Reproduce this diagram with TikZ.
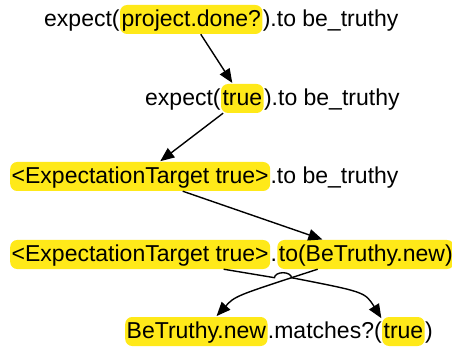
\documentclass[tikz,border=0pt]{standalone}
\usepackage{fontspec}
\setmainfont{Liberation Sans}
\usetikzlibrary{arrows.meta}
\definecolor{hlyellow}{RGB}{255,233,25}
\tikzset{
  txt/.style={inner sep=0pt, text height=20pt, text depth=6pt, anchor=base west},
  hl/.style={txt, fill=hlyellow, rounded corners=7pt, inner xsep=1.5pt, inner ysep=1.5pt},
  edge/.style={line width=1.4pt, -{Triangle[length=14pt,width=11.5pt]}, shorten >=1pt}
}
\begin{document}
\begin{tikzpicture}[x=1pt, y=-1pt, font=\fontsize{23}{28}\selectfont]
 \useasboundingbox (0,0) rectangle (452,347);

 % line 1
 \node[txt] (l1a) at (44,26.5) {expect(};
 \node[hl] (l1b) at (l1a.base east) {project.done?};
 \node[txt] (l1c) at (l1b.base east) {).to be\_truthy};

 % line 2
 \node[txt] (l2a) at (145,105.5) {expect(};
 \node[hl] (l2b) at (l2a.base east) {true};
 \node[txt] (l2c) at (l2b.base east) {).to be\_truthy};

 % line 3
 \node[hl] (l3a) at (10,183.5) {<ExpectationTarget true>};
 \node[txt] (l3b) at (l3a.base east) {.to be\_truthy};

 % line 4
 \node[hl] (l4a) at (10,261.5) {<ExpectationTarget true>};
 \node[txt] (l4dot) at (l4a.base east) {.};
 \node[hl] (l4b) at (l4dot.base east) {to(BeTruthy.new)};

 % line 5
 \node[hl] (l5a) at (125,338.5) {BeTruthy.new};
 \node[txt] (l5b) at (l5a.base east) {.matches?(};
 \node[hl] (l5c) at (l5b.base east) {true};
 \node[txt] (l5d) at (l5c.base east) {)};

 % straight steps
 \draw[edge] (l1b) -- (l2b);
 \draw[edge] (l2b) -- (l3a);
 \draw[edge] (l3a) -- (l4b);

 % crossing steps, the first one hops over the second
 \coordinate (hop) at (283,277.7);
 \draw[edge] (l4a.-10.5) -- ([xshift=-8.5pt]hop)
   arc[start angle=180, end angle=0, x radius=8.5pt, y radius=5pt]
   .. controls (365,292) .. (l5c.150);
 \draw[edge] (l4b.197) .. controls (235,296) .. (l5a.37);
\end{tikzpicture}
\end{document}
